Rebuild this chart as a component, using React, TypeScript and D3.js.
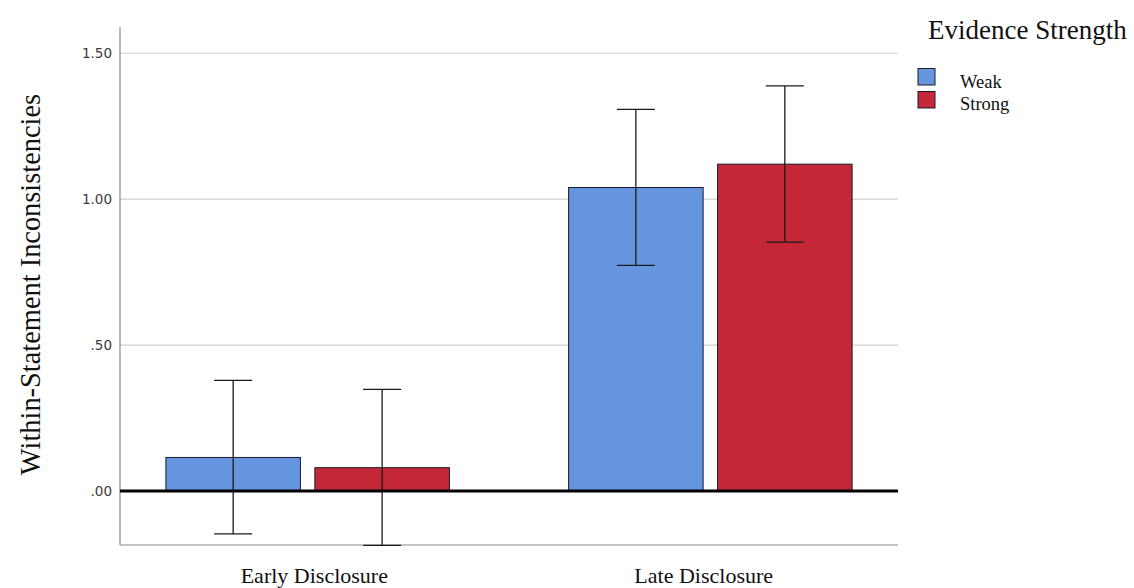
import React from "react";
import * as d3 from "d3";

const categories = ["Early Disclosure", "Late Disclosure"];
const series = ["Weak", "Strong"];
const colors = ["#6495de", "#c42838"];
const means = [
  [0.115, 0.08],
  [1.04, 1.12],
];
const lower = [
  [-0.147, -0.186],
  [0.773, 0.853],
];
const upper = [
  [0.379, 0.348],
  [1.308, 1.388],
];
const yTicks = [0, 0.5, 1.0, 1.5];
const yTickLabels = [".00", ".50", "1.00", "1.50"];

export default function App() {
  const W = 1134;
  const H = 588;
  const x0 = 120;
  const x1 = 898;
  const y = d3.scaleLinear().domain([-0.185, 1.59]).range([545, 27]);
  const xBand = d3
    .scaleBand<string>()
    .domain(categories)
    .range([x0, x1])
    .paddingInner(0.296)
    .paddingOuter(0.114);
  const xSub = d3
    .scaleBand<string>()
    .domain(series)
    .range([0, xBand.bandwidth()])
    .paddingInner(0.097)
    .paddingOuter(0);
  const capW = 38;
  const serif = "'Liberation Serif', 'Times New Roman', serif";
  const sans = "'DejaVu Sans', sans-serif";
  const mid = (x0 + x1) / 2;

  return (
    <svg
      width={W}
      height={H}
      style={{ position: "absolute", left: 0, top: 0, background: "#fff" }}
    >
      {/* grid lines */}
      {yTicks
        .filter((t) => t !== 0)
        .map((t) => (
          <line
            key={t}
            x1={x0}
            x2={x1}
            y1={y(t)}
            y2={y(t)}
            stroke="#cfcfcf"
            strokeWidth={1.2}
          />
        ))}
      {/* axes */}
      <line x1={x0} x2={x0} y1={y.range()[1]} y2={y.range()[0]} stroke="#8a8a8a" strokeWidth={1.2} />
      <line x1={x0} x2={x1} y1={y.range()[0]} y2={y.range()[0]} stroke="#8a8a8a" strokeWidth={1.2} />
      {yTicks.map((t, i) => (
        <text
          key={t}
          x={112}
          y={y(t)}
          dy="0.38em"
          textAnchor="end"
          fontFamily={sans}
          fontSize={13.5}
          fill="#3a3a3a"
        >
          {yTickLabels[i]}
        </text>
      ))}
      {/* bars */}
      {categories.map((c, ci) =>
        series.map((s, si) => {
          const bx = (xBand(c) as number) + (xSub(s) as number);
          const bw = xSub.bandwidth();
          const top = y(means[ci][si]);
          const cx = bx + bw / 2;
          return (
            <g key={c + s}>
              <rect
                x={bx}
                y={top}
                width={bw}
                height={y(0) - top}
                fill={colors[si]}
                stroke="#1a1a2a"
                strokeWidth={1}
              />
              <line x1={cx} x2={cx} y1={y(upper[ci][si])} y2={y(lower[ci][si])} stroke="#1a1a1a" strokeWidth={1.3} />
              <line x1={cx - capW / 2} x2={cx + capW / 2} y1={y(upper[ci][si])} y2={y(upper[ci][si])} stroke="#1a1a1a" strokeWidth={1.3} />
              <line x1={cx - capW / 2} x2={cx + capW / 2} y1={y(lower[ci][si])} y2={y(lower[ci][si])} stroke="#1a1a1a" strokeWidth={1.3} />
            </g>
          );
        })
      )}
      {/* zero line */}
      <line x1={x0} x2={x1} y1={y(0)} y2={y(0)} stroke="#000" strokeWidth={3} />
      {/* x labels */}
      {categories.map((c) => {
        const cx = (xBand(c) as number) + xBand.bandwidth() / 2;
        return (
          <text
            key={c}
            x={cx + (mid - cx) * 0.033}
            y={583}
            textAnchor="middle"
            fontFamily={serif}
            fontSize={22}
            fill="#111"
          >
            {c}
          </text>
        );
      })}
      {/* y title */}
      <text
        transform={`translate(40, 284.5) rotate(-90)`}
        textAnchor="middle"
        fontFamily={serif}
        fontSize={28.4}
        fill="#111"
      >
        Within-Statement Inconsistencies
      </text>
      {/* legend */}
      <text x={928} y={39} fontFamily={serif} fontSize={27} fill="#111">
        Evidence Strength
      </text>
      {series.map((s, i) => (
        <g key={s}>
          <rect
            x={918}
            y={68.5 + i * 23}
            width={17}
            height={16.5}
            fill={colors[i]}
            stroke="#1a1a2a"
            strokeWidth={1}
          />
          <text x={960} y={88 + i * 22} fontFamily={serif} fontSize={18.5} fill="#111">
            {s}
          </text>
        </g>
      ))}
    </svg>
  );
}
